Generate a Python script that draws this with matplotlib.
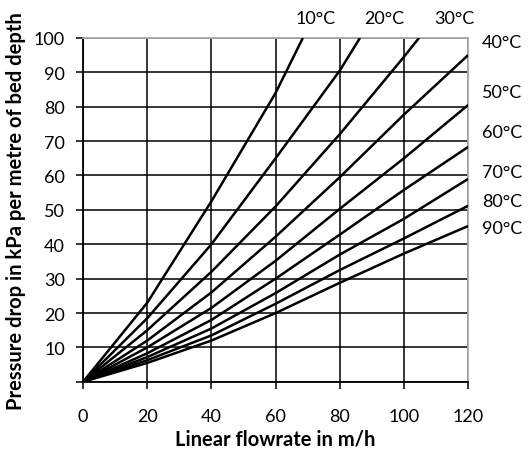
import matplotlib
matplotlib.use('Agg')
import matplotlib.pyplot as plt

plt.rcParams['font.family'] = ['Lato', 'DejaVu Sans']

# flowrate (m/h) and pressure drop (kPa per m of bed) per temperature
temps = ['10°C', '20°C', '30°C', '40°C', '50°C', '60°C', '70°C', '80°C', '90°C']
x10 = [0, 20, 40, 60, 68.5]
y10 = [0, 23, 52.5, 84, 100]
x20 = [0, 20, 40, 60, 80, 86.3]
y20 = [0, 18.5, 40, 65, 90.5, 100]
x30 = [0, 20, 40, 60, 80, 100, 104.7]
y30 = [0, 15, 32, 51, 72, 94.5, 100]
xfull = [0, 20, 40, 60, 80, 100, 120]
y40 = [0, 12, 26, 42.2, 59.5, 77.7, 95]
y50 = [0, 10, 21.5, 35.2, 50.3, 65, 80.5]
y60 = [0, 8.3, 18, 30, 42.8, 55.8, 68.3]
y70 = [0, 7.2, 15.5, 25.8, 37, 47.4, 59]
y80 = [0, 6.3, 13.5, 22.7, 32.5, 41.7, 51.2]
y90 = [0, 5.5, 12, 20, 28.8, 37.3, 45.3]

series = [(x10, y10), (x20, y20), (x30, y30), (xfull, y40), (xfull, y50),
          (xfull, y60), (xfull, y70), (xfull, y80), (xfull, y90)]

# where the temperature labels sit (data units)
top_label_x = [72.3, 93.8, 115.6]
right_label_y = [98.8, 84.3, 72.7, 61.0, 52.6, 44.8]

fig = plt.figure(figsize=(5.29, 4.52), dpi=100)
ax = fig.add_axes([0.157, 0.153, 0.728, 0.761])

for xs, ys in series:
    ax.plot(xs, ys, color='black', lw=1.8, solid_capstyle='butt', zorder=3)

ax.set_xlim(0, 120)
ax.set_ylim(0, 100)
ax.set_xticks(range(0, 121, 20))
ax.set_yticks(range(0, 101, 10))
ax.set_yticklabels([''] + [str(v) for v in range(10, 101, 10)])
ax.grid(True, color='black', lw=1.1)
ax.tick_params(direction='out', length=5, width=1.1, labelsize=13, colors='black')
ax.tick_params(axis='x', pad=14)
ax.tick_params(axis='y', pad=8)
for s in ['left', 'bottom']:
    ax.spines[s].set_linewidth(1.3)
for s in ['top', 'right']:
    ax.spines[s].set_color('#aaaaaa')
    ax.spines[s].set_linewidth(1.3)

ax.set_xlabel('Linear flowrate in m/h', fontsize=14.5, fontweight='bold', labelpad=3)
ax.set_ylabel('Pressure drop in kPa per metre of bed depth', fontsize=14.5,
              fontweight='bold', labelpad=6)

for lbl, xv in zip(temps[:3], top_label_x):
    ax.annotate(lbl, (xv, 100), xytext=(0, 14), textcoords='offset points',
                ha='center', va='center', fontsize=13, annotation_clip=False)
for lbl, yv in zip(temps[3:], right_label_y):
    ax.annotate(lbl, (120, yv), xytext=(10, 0), textcoords='offset points',
                ha='left', va='center', fontsize=13, annotation_clip=False)

fig.savefig('out.png', dpi=100)
